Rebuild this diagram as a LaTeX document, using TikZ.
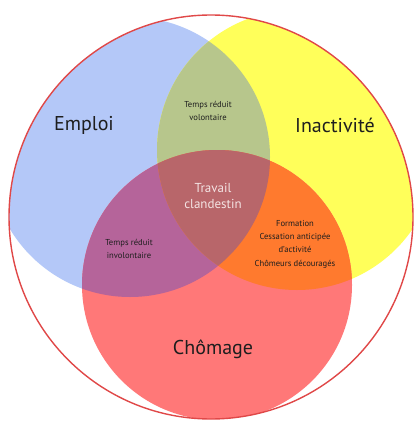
\documentclass[tikz,border=0pt]{standalone}
\usepackage{fontspec}
\setmainfont{PT Sans}
\definecolor{cblue}{HTML}{B4C8F8}
\definecolor{cyellow}{HTML}{FFFF5A}
\definecolor{cred}{HTML}{FF7878}
\definecolor{cby}{HTML}{B7C68C}
\definecolor{cbr}{HTML}{B5649A}
\definecolor{cyr}{HTML}{FF7A2E}
\definecolor{call}{HTML}{B8666A}
\definecolor{ring}{HTML}{E04848}
\definecolor{txt}{HTML}{1E1E1E}
\definecolor{light}{HTML}{F4E4E4}
\tikzset{
  big/.style={font=\fontsize{20}{22}\selectfont, text=txt, align=center},
  small/.style={font=\fontsize{8.6}{13}\selectfont, text=txt, align=center},
  mid/.style={font=\fontsize{13}{16}\selectfont, text=light, align=center},
}
\begin{document}
\begin{tikzpicture}[x=1pt,y=-1pt]
\useasboundingbox (0,0) rectangle (414,425);
\def\B{(130,157) circle[radius=140pt]}
\def\Y{(297,150) circle[radius=140pt]}
\def\R{(217,285) circle[radius=135pt]}
\fill[white] (211,217) circle[radius=202pt];
\begin{scope}
  \clip (211,217) circle[radius=202pt];
  \fill[cblue] \B;
  \fill[cyellow] \Y;
  \fill[cred] \R;
  \begin{scope}\clip \B; \fill[cby] \Y; \end{scope}
  \begin{scope}\clip \B; \fill[cbr] \R; \end{scope}
  \begin{scope}\clip \Y; \fill[cyr] \R; \end{scope}
  \begin{scope}\clip \B; \clip \Y; \fill[call] \R; \end{scope}
\end{scope}
\draw[ring, line width=1.4pt] (211,217) circle[radius=202pt];
\node[big] (emploi) at (84,125) {Emploi};
\node[big] (inact) at (335,125) {Inactivité};
\node[big] (chom) at (213,349) {Chômage};
\node[small] (vol) at (208,111) {Temps réduit\\volontaire};
\node[small] (invol) at (129,249) {Temps réduit\\involontaire};
\node[mid] (clan) at (213,196) {Travail\\clandestin};
\node[small, font=\fontsize{8.6}{13.4}\selectfont] (form) at (295,244) {Formation\\Cessation anticipée\\d'activité\\Chômeurs découragés};
\end{tikzpicture}
\end{document}
